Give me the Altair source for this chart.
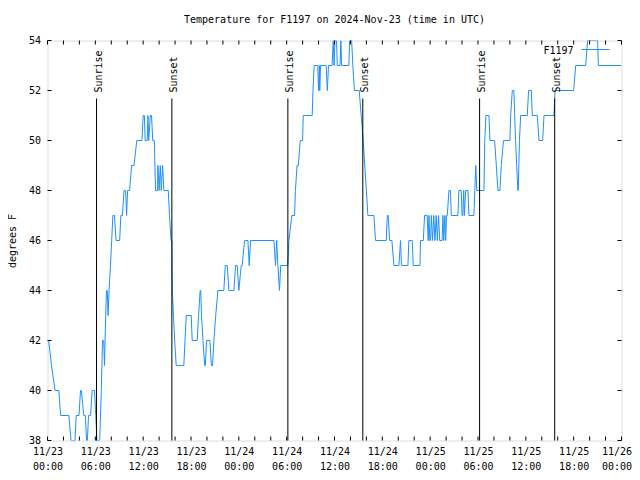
import altair as alt
import pandas as pd

# ---- data (hours after 2024-11-23 00:00 UTC, deg F) ----
hours = [0.0, 0.15, 0.5, 0.95, 1.42, 1.65, 2.68, 2.95, 3.45, 3.6, 3.95, 4.14, 4.25, 4.55, 4.75,
         4.9, 5.0, 5.15, 5.4, 5.6, 5.9, 6.05, 6.2, 6.55, 6.75, 6.9, 7.05, 7.15, 7.22, 7.3,
         7.4, 7.5, 7.6, 7.72, 7.9, 8.05, 8.2, 8.4, 8.6, 9.05, 9.2, 9.4, 9.6, 9.8, 9.92,
         10.05, 10.3, 10.55, 10.85, 11.2, 11.85, 12.0, 12.15, 12.25, 12.5, 12.6, 12.7, 12.9, 13.05, 13.2,
         13.4, 13.55, 13.8, 13.85, 14.0, 14.15, 14.27, 14.44, 14.6, 15.15, 15.3, 15.5, 15.62, 15.66, 15.8,
         15.95, 16.14, 17.1, 17.25, 17.4, 18.03, 18.15, 18.78, 18.95, 19.15, 19.22, 19.32, 19.5, 19.72, 19.8,
         19.95, 20.37, 20.55, 20.7, 20.87, 21.1, 21.37, 22.12, 22.3, 22.55, 22.75, 23.38, 23.59, 23.8, 24.0,
         24.3, 24.42, 24.72, 25.14, 25.3, 25.47, 28.4, 28.6, 28.75, 28.9, 29.1, 29.25, 30.15, 30.28, 30.65,
         30.99, 31.1, 31.3, 31.46, 31.7, 32.0, 32.08, 33.2, 33.3, 33.45, 33.9, 34.0, 34.1, 34.15, 34.25,
         34.96, 35.1, 35.25, 35.7, 35.84, 35.95, 36.05, 36.25, 36.35, 36.7, 36.8, 36.9, 37.8, 37.9, 38.15,
         38.3, 38.5, 39.1, 39.35, 39.6, 39.8, 40.0, 40.19, 40.94, 41.15, 42.49, 42.62, 42.74, 42.91, 43.2,
         43.45, 44.08, 44.28, 44.4, 44.6, 45.21, 45.33, 45.75, 45.88, 46.72, 46.8, 47.14, 47.3, 47.63, 47.75,
         47.85, 47.95, 48.05, 48.15, 48.3, 48.45, 48.6, 48.75, 48.9, 49.05, 49.2, 49.5, 49.6, 49.7, 49.85,
         49.95, 50.05, 50.15, 50.35, 50.55, 50.65, 51.48, 51.6, 51.9, 52.0, 52.1, 52.2, 52.3, 52.45, 52.74,
         52.86, 53.49, 53.6, 53.72, 53.85, 54.75, 54.85, 55.0, 55.37, 55.5, 56.08, 56.3, 56.5, 56.75, 56.92,
         57.2, 58.0, 58.1, 58.3, 58.5, 58.6, 58.72, 58.85, 59.0, 59.05, 59.2, 59.35, 60.18, 60.35, 60.68,
         60.81, 61.44, 61.65, 62.11, 62.28, 63.53, 63.66, 66.0, 66.25, 67.5, 67.75, 69.0, 69.1, 72.0]
temps = [42, 42, 41, 40, 40, 39, 39, 38, 38, 39, 39, 40, 40, 39, 39,
         38, 38, 39, 39, 40, 40, 39, 38, 38, 40, 42, 42, 41, 42, 43,
         44, 44, 43, 44, 45, 46, 47, 47, 46, 46, 47, 47, 48, 48, 47,
         48, 48, 49, 49, 50, 50, 51, 51, 50, 50, 51, 50, 51, 51, 50,
         50, 48, 48, 49, 48, 49, 48, 49, 48, 48, 47, 46, 46, 44, 43,
         42, 41, 41, 42, 43, 43, 42, 42, 43, 44, 44, 43, 42, 41, 41,
         42, 42, 41, 41, 42, 43, 44, 44, 45, 45, 44, 44, 45, 45, 44,
         45, 45, 46, 46, 45, 46, 46, 45, 46, 45, 44, 45, 45, 46, 47,
         47, 48, 49, 49, 50, 50, 51, 51, 52, 53, 53, 52, 53, 52, 53,
         53, 52, 53, 53, 54, 53, 54, 54, 53, 53, 54, 53, 53, 54, 54,
         53, 52, 52, 51, 50, 49, 48, 47, 47, 46, 46, 47, 47, 46, 46,
         45, 45, 46, 45, 45, 45, 46, 46, 45, 45, 46, 46, 47, 47, 46,
         47, 46, 46, 47, 46, 47, 46, 47, 46, 47, 46, 46, 47, 46, 47,
         46, 47, 47, 48, 48, 47, 47, 48, 48, 47, 47, 48, 47, 48, 48,
         47, 47, 48, 49, 48, 48, 50, 51, 51, 50, 50, 49, 48, 48, 49,
         50, 50, 51, 52, 52, 51, 50, 49, 48, 48, 50, 51, 51, 52, 52,
         51, 51, 50, 50, 51, 51, 52, 52, 53, 53, 54, 54, 53, 53]

sun_hours = [6.15, 15.6, 30.15, 39.55, 54.2, 63.62]
sun_labels = ["Sunrise", "Sunset", "Sunrise", "Sunset", "Sunrise", "Sunset"]

xtick_hours = list(range(0, 73, 2))
xlabel_hours = list(range(0, 73, 6))
ytick_values = [38, 40, 42, 44, 46, 48, 50, 52, 54]
series_name = "F1197"
title_text = "Temperature for F1197 on 2024-Nov-23 (time in UTC)"

BLUE = "#1E90FF"
FONT = "DejaVu Sans Mono"
FS = 10

start = pd.Timestamp("2024-11-23T00:00:00", tz="UTC")


def iso(h):
    return (start + pd.to_timedelta(h, unit="h")).strftime("%Y-%m-%dT%H:%M:%SZ")


def ms(h):
    return int((start + pd.to_timedelta(h, unit="h")).value // 10**6)


df = pd.DataFrame({"time": [iso(h) for h in hours], "temp": temps})
sun_df = pd.DataFrame({"time": [iso(h) for h in sun_hours], "label": sun_labels})
xt_df = pd.DataFrame({"time": [iso(h) for h in xtick_hours]})
yt_df = pd.DataFrame({"temp": ytick_values})
leg_df = pd.DataFrame({"series": [series_name]})

xscale = alt.Scale(type="utc", domain=[ms(0), ms(72)])
yscale = alt.Scale(domain=[38, 54], nice=False, zero=False)

x_axis = alt.Axis(
    values=[ms(h) for h in xlabel_hours],
    labelExpr="[utcFormat(datum.value, '%m/%d'), utcFormat(datum.value, '%H:%M')]",
    labelLineHeight=15, labelPadding=6, ticks=False, tickSize=0, domain=False, grid=False,
    title=None, labelFont=FONT, labelFontSize=FS, labelColor="black", labelFlush=False,
    labelOverlap=False, labelBaseline="top",
    labelOffset={"condition": {"test": f"datum.value >= {ms(72)}", "value": -5}, "value": 0},
)
y_axis = alt.Axis(
    values=ytick_values, ticks=False, tickSize=0, domain=False, grid=False,
    labelPadding=7, labelFont=FONT, labelFontSize=FS, labelColor="black",
    title="degrees F", titleFont=FONT, titleFontSize=FS, titleFontWeight="normal",
    titleColor="black", titleAngle=270, titleX=-35, titleY=200, titleAlign="center",
    titleBaseline="middle",
)

X = alt.X("time:T", scale=xscale, axis=x_axis)
Y = alt.Y("temp:Q", scale=yscale, axis=y_axis)

line = alt.Chart(df).mark_line(color=BLUE, strokeWidth=1, clip=True).encode(x=X, y=Y)

xt_bottom = alt.Chart(xt_df).mark_rule(color="black", strokeWidth=1).encode(
    x=X, y=alt.value(400), y2=alt.value(396))
xt_top = alt.Chart(xt_df).mark_rule(color="black", strokeWidth=1).encode(
    x=X, y=alt.value(0), y2=alt.value(4))
yt_left = alt.Chart(yt_df).mark_rule(color="black", strokeWidth=1).encode(
    y=Y, x=alt.value(0), x2=alt.value(4))
yt_right = alt.Chart(yt_df).mark_rule(color="black", strokeWidth=1).encode(
    y=Y, x=alt.value(574), x2=alt.value(570))

sun_rules = alt.Chart(sun_df).mark_rule(color="black", strokeWidth=1).encode(
    x=X, y=alt.value(58), y2=alt.value(400))
sun_text = alt.Chart(sun_df).mark_text(
    angle=270, align="left", baseline="alphabetic", dy=5.5, font=FONT, fontSize=FS, color="black"
).encode(x=X, y=alt.value(52), text="label:N")

leg_text = alt.Chart(leg_df).mark_text(
    align="right", baseline="middle", font=FONT, fontSize=FS, color="black"
).encode(x=alt.value(526), y=alt.value(10), text="series:N")
leg_line = alt.Chart(leg_df).mark_rule(color=BLUE, strokeWidth=1).encode(
    x=alt.value(534), x2=alt.value(562), y=alt.value(9))

chart = alt.layer(
    line, sun_rules, sun_text, xt_bottom, xt_top, yt_left, yt_right, leg_text, leg_line
).properties(
    width=574,
    height=400,
    title=alt.TitleParams(title_text, font=FONT, fontSize=FS, fontWeight="normal",
                          color="black", anchor="middle", frame="group", offset=11),
    padding={"left": 39.5, "top": 32.5, "right": 10, "bottom": 31},
    autosize="none",
).configure_view(stroke="black", strokeWidth=1).configure(background="white")

chart.save("out.html", embed_options={"renderer": "svg", "actions": False})
